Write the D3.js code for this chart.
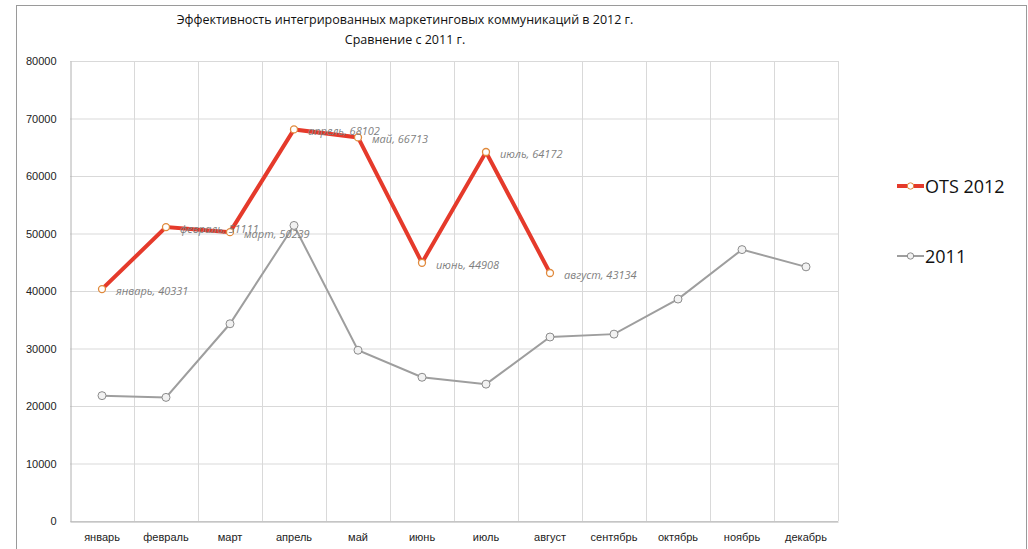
<!DOCTYPE html>
<html>
<head>
<meta charset="utf-8">
<script src="https://cdn.jsdelivr.net/npm/d3@7"></script>
<style>
  body { margin: 0; background: #fff; }
  svg { font-family: "Open Sans", "DejaVu Sans", sans-serif; }
</style>
</head>
<body>
<section></section>
<script>
const months = ["январь", "февраль", "март", "апрель", "май", "июнь", "июль", "август", "сентябрь", "октябрь", "ноябрь", "декабрь"];
const ots2012 = [40331, 51111, 50239, 68102, 66713, 44908, 64172, 43134];
const y2011 = [21800, 21500, 34300, 51400, 29700, 25000, 23800, 32000, 32500, 38600, 47200, 44200];
const yTicks = [0, 10000, 20000, 30000, 40000, 50000, 60000, 70000, 80000];

const WIDTH = 1028;
const HEIGHT = 549;

// plot area
const LEFT = 70, RIGHT = 838, TOP = 61, BOTTOM = 521;

const svg = d3.select("section")
  .append("svg")
  .attr("width", WIDTH)
  .attr("height", HEIGHT);

// outer frame of the chart
svg.append("rect")
  .attr("x", 16.5).attr("y", 5.5)
  .attr("width", 1010).attr("height", 560)
  .attr("fill", "none")
  .attr("stroke", "#9a9a9a");

const xScale = d3.scaleBand().domain(months).range([LEFT, RIGHT]);
const yScale = d3.scaleLinear().domain([0, 80000]).range([BOTTOM, TOP]);
const cx = m => xScale(m) + xScale.bandwidth() / 2;

// horizontal gridlines
svg.append("g")
  .selectAll("line")
  .data(yTicks)
  .enter()
  .append("line")
  .attr("x1", LEFT).attr("x2", RIGHT)
  .attr("y1", d => yScale(d) + 0.5).attr("y2", d => yScale(d) + 0.5)
  .attr("stroke", "#d9d9d9");

// vertical gridlines between months
svg.append("g")
  .selectAll("line")
  .data(months.slice(1).concat(["end"]))
  .enter()
  .append("line")
  .attr("x1", (d, i) => LEFT + (i + 1) * xScale.bandwidth() + 0.5)
  .attr("x2", (d, i) => LEFT + (i + 1) * xScale.bandwidth() + 0.5)
  .attr("y1", TOP).attr("y2", BOTTOM)
  .attr("stroke", "#d9d9d9");

// axes
const yAxis = d3.axisLeft(yScale).tickValues(yTicks).tickSize(0).tickPadding(14).tickFormat(d3.format("d"));
svg.append("g")
  .attr("transform", "translate(" + (LEFT + 0.5) + ",0)")
  .call(yAxis)
  .call(g => g.select(".domain").attr("stroke", "#b0b0b0"))
  .call(g => g.selectAll("text").attr("font-size", 11).attr("fill", "#222"));

const xAxis = d3.axisBottom(xScale).tickSize(0).tickPadding(12);
svg.append("g")
  .attr("transform", "translate(0," + (BOTTOM + 0.5) + ")")
  .call(xAxis)
  .call(g => g.select(".domain").attr("stroke", "#b0b0b0"))
  .call(g => g.selectAll("text").attr("font-size", 11).attr("fill", "#222"));

// 2011 line
const line = d3.line().x((d, i) => cx(months[i])).y(d => yScale(d));

svg.append("path")
  .datum(y2011)
  .attr("d", line)
  .attr("fill", "none")
  .attr("stroke", "#9e9e9e")
  .attr("stroke-width", 2);

svg.append("g")
  .selectAll("circle")
  .data(y2011)
  .enter()
  .append("circle")
  .attr("cx", (d, i) => cx(months[i]))
  .attr("cy", d => yScale(d))
  .attr("r", 4)
  .attr("fill", "#f2f2f2")
  .attr("stroke", "#8c8c8c")
  .attr("stroke-width", 1);

// 2012 line
svg.append("path")
  .datum(ots2012)
  .attr("d", line)
  .attr("fill", "none")
  .attr("stroke", "#e53a2b")
  .attr("stroke-width", 4);

svg.append("g")
  .selectAll("circle")
  .data(ots2012)
  .enter()
  .append("circle")
  .attr("cx", (d, i) => cx(months[i]))
  .attr("cy", d => yScale(d))
  .attr("r", 3.5)
  .attr("fill", "#fff")
  .attr("stroke", "#e08a3c")
  .attr("stroke-width", 1.3);

// data labels (февраль and март overlap in the original too)
svg.append("g")
  .selectAll("text")
  .data(ots2012)
  .enter()
  .append("text")
  .attr("x", (d, i) => cx(months[i]) + 14)
  .attr("y", d => yScale(d) + 6)
  .attr("font-size", 11)
  .attr("font-style", "italic")
  .attr("fill", "#7f7f7f")
  .text((d, i) => months[i] + ", " + d);

// title
const title = svg.append("text")
  .attr("x", 405)
  .attr("text-anchor", "middle")
  .attr("font-size", 12.5)
  .attr("fill", "#111");
title.append("tspan").attr("x", 405).attr("y", 24).text("Эффективность интегрированных маркетинговых коммуникаций в 2012 г.");
title.append("tspan").attr("x", 405).attr("y", 44).text("Сравнение с 2011 г.");

// legend
const legend = [
  { name: "OTS 2012", y: 186, color: "#e53a2b", width: 4, fill: "#fff", mark: "#e08a3c" },
  { name: "2011", y: 256, color: "#9e9e9e", width: 2, fill: "#f2f2f2", mark: "#8c8c8c" }
];
const lg = svg.append("g").selectAll("g").data(legend).enter().append("g");
lg.append("line")
  .attr("x1", 897).attr("x2", 924)
  .attr("y1", d => d.y).attr("y2", d => d.y)
  .attr("stroke", d => d.color)
  .attr("stroke-width", d => d.width);
lg.append("circle")
  .attr("cx", 910.5).attr("cy", d => d.y)
  .attr("r", 3.2)
  .attr("fill", d => d.fill)
  .attr("stroke", d => d.mark);
lg.append("text")
  .attr("x", 925).attr("y", d => d.y + 7)
  .attr("font-size", 18)
  .attr("fill", "#111")
  .text(d => d.name);
</script>
</body>
</html>
